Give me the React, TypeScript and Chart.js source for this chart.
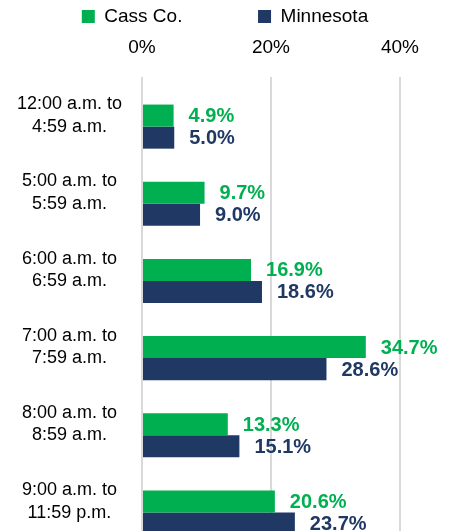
import React, { useEffect, useRef } from "react";
import { Chart, registerables } from "chart.js";

Chart.register(...registerables);

const FONT = "'Liberation Sans', Arial, sans-serif";

const categories: string[][] = [
  ["12:00 a.m. to", "4:59 a.m."],
  ["5:00 a.m. to", "5:59 a.m."],
  ["6:00 a.m. to", "6:59 a.m."],
  ["7:00 a.m. to", "7:59 a.m."],
  ["8:00 a.m. to", "8:59 a.m."],
  ["9:00 a.m. to", "11:59 p.m."],
];
const seriesNames = ["Cass Co.", "Minnesota"];
const cassValues = [4.9, 9.7, 16.9, 34.7, 13.3, 20.6];
const minnesotaValues = [5.0, 9.0, 18.6, 28.6, 15.1, 23.7];
const spacerValues = [null, null, null, null, null, null];
const axisMin = 0;
const axisMax = 40;
const axisStep = 20;

const GREEN = "#00B050";
const NAVY = "#1F3864";

const valueLabels = {
  id: "valueLabels",
  afterDatasetsDraw(chart: any) {
    const ctx = chart.ctx;
    ctx.save();
    ctx.font = `bold 20px ${FONT}`;
    ctx.textAlign = "left";
    ctx.textBaseline = "middle";
    chart.data.datasets.forEach((ds: any, di: number) => {
      if (!ds.showValues) return;
      const meta = chart.getDatasetMeta(di);
      meta.data.forEach((el: any, i: number) => {
        const v = ds.data[i];
        if (v == null) return;
        ctx.fillStyle = ds.labelColor;
        ctx.fillText(v.toFixed(1) + "%", el.x + 15, el.y + 1);
      });
    });
    ctx.restore();
  },
};

export default function App() {
  const ref = useRef<HTMLCanvasElement>(null);

  useEffect(() => {
    if (!ref.current) return;
    const chart = new Chart(ref.current, {
      type: "bar",
      data: {
        labels: categories,
        datasets: [
          {
            label: "",
            data: spacerValues,
            backgroundColor: "rgba(0,0,0,0)",
            borderWidth: 0,
          } as any,
          {
            label: seriesNames[0],
            data: cassValues,
            backgroundColor: GREEN,
            borderWidth: 0,
            showValues: true,
            labelColor: GREEN,
          } as any,
          {
            label: seriesNames[1],
            data: minnesotaValues,
            backgroundColor: NAVY,
            borderWidth: 0,
            showValues: true,
            labelColor: NAVY,
          } as any,
        ],
      },
      options: {
        indexAxis: "y",
        animation: false,
        responsive: false,
        maintainAspectRatio: false,
        layout: { padding: 0 },
        datasets: {
          bar: { categoryPercentage: 0.857, barPercentage: 1 },
        },
        plugins: {
          tooltip: { enabled: false },
          legend: {
            position: "top",
            align: "center",
            labels: {
              boxWidth: 13,
              boxHeight: 13,
              padding: 7,
              color: "#000",
              font: { family: FONT, size: 19 },
              filter: (item: any) => item.datasetIndex !== 0,
              generateLabels: (chart: any) => {
                const items = Chart.defaults.plugins.legend.labels.generateLabels(chart);
                return items.map((it: any) =>
                  it.datasetIndex === 1
                    ? { ...it, text: it.text + " ".repeat(13), lineWidth: 0 }
                    : { ...it, lineWidth: 0 }
                );
              },
            },
          },
        },
        scales: {
          x: {
            position: "top",
            min: axisMin,
            max: axisMax,
            ticks: {
              stepSize: axisStep,
              padding: 18,
              color: "#000",
              font: { family: FONT, size: 19 },
              callback: (v: any) => v + "%",
            },
            grid: {
              color: "#D9D9D9",
              lineWidth: 2,
              drawTicks: false,
              tickLength: 0,
            },
            border: { display: false },
            afterFit: (scale: any) => {
              scale.height = 41;
              scale.paddingLeft = 0;
              scale.paddingRight = 50;
              scale.paddingTop = 0;
              scale.paddingBottom = 0;
            },
          },
          y: {
            ticks: {
              autoSkip: false,
              crossAlign: "center",
              padding: 12,
              color: "#000",
              font: { family: FONT, size: 18, lineHeight: 1.25 },
            },
            grid: { display: false },
            border: { display: false },
            afterFit: (scale: any) => {
              scale.width = 142;
              scale.paddingTop = 0;
              scale.paddingBottom = 0;
            },
          },
        },
      },
      plugins: [valueLabels],
    } as any);
    return () => chart.destroy();
  }, []);

  return (
    <div
      style={{
        position: "fixed",
        left: 0,
        top: 0,
        width: 450,
        height: 531,
        overflow: "hidden",
        background: "#fff",
      }}
    >
      <canvas ref={ref} width={450} height={540} style={{ display: "block" }} />
    </div>
  );
}
